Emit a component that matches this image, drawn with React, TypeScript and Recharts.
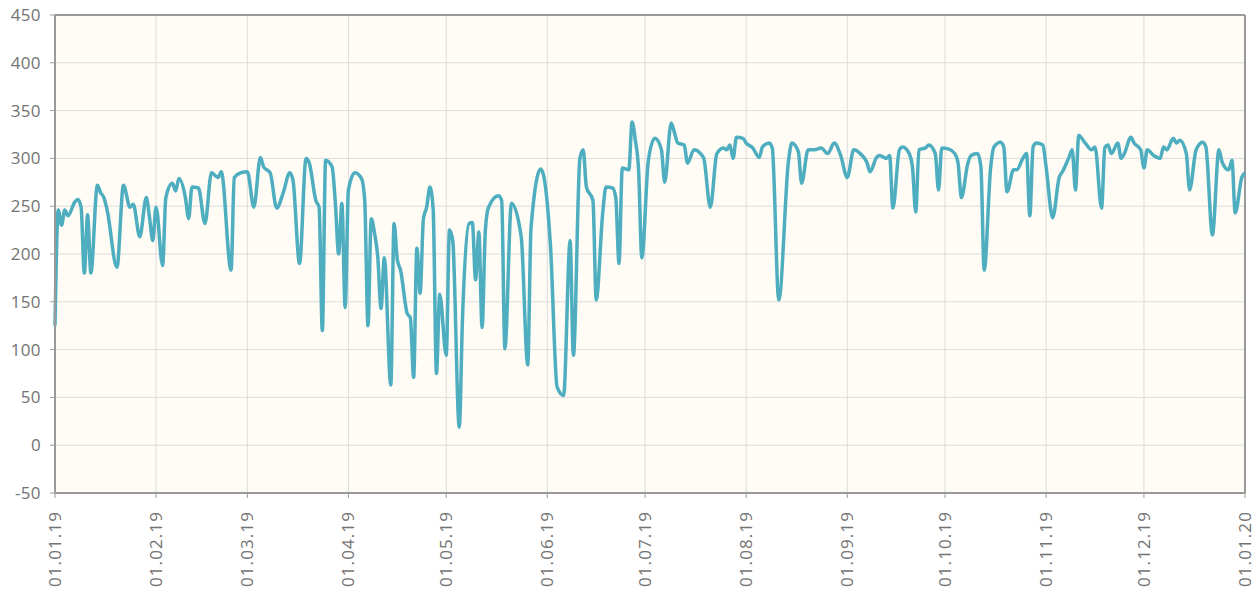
import React from 'react';
import {
  LineChart,
  Line,
  XAxis,
  YAxis,
  CartesianGrid,
  ReferenceLine,
} from 'recharts';

// day of year (0 = 01.01.19) where the line turns, and the value there
const DAYS = [
  0, 1, 2, 3, 4, 6, 7, 8, 9, 10, 11, 13, 14, 15, 16, 19, 21, 23, 24, 26, 28, 29, 30,
  31, 33, 34, 36, 37, 38, 40, 41, 42, 44, 46, 48, 50, 51, 54, 55, 57,
  59, 61, 63, 64, 66, 68, 70, 72, 73, 75, 77, 78, 80, 81, 82, 83, 85, 86, 87, 88, 89,
  90, 92, 94, 95, 96, 97, 98, 99, 100, 101, 103, 104, 105, 106, 108, 109, 110, 111, 112,
  113, 114, 115, 116, 117, 118, 120, 121, 122, 124, 125, 127, 128, 129, 130, 131, 132,
  133, 136, 137, 138, 140, 143, 145, 146, 149, 150,
  152, 154, 156, 158, 159, 161, 162, 163, 165, 166, 168, 169, 171, 172, 173, 174, 176,
  177, 178, 179, 180,
  182, 184, 186, 187, 189, 190, 191, 193, 194, 196, 198, 199, 201, 203, 205, 206, 207,
  208, 209, 211,
  212, 214, 216, 217, 219, 220, 222, 225, 226, 228, 229, 231, 233, 235, 237, 239, 241,
  243, 245, 247, 249, 250, 252, 253, 255, 256, 257, 259, 260, 262, 263, 264, 265, 267,
  268, 270, 271, 272,
  274, 276, 277, 278, 280, 281, 283, 284, 285, 287, 288, 290, 291, 292, 294, 295, 297,
  298, 299, 300, 301, 303,
  304, 306, 308, 309, 311, 312, 313, 314, 316, 318, 319, 321, 322, 323, 324, 326, 327,
  328, 330, 331, 333,
  334, 335, 337, 339, 340, 341, 343, 344, 345, 347, 348, 350, 352, 353, 355, 357, 358,
  360, 361, 362, 364, 365,
];

const VALUES = [
  125, 246, 230, 246, 240, 254, 257, 249, 180, 241, 180, 272, 264, 259, 246, 186, 272, 249, 252, 218, 259, 238, 214,
  249, 188, 259, 274, 266, 279, 259, 237, 270, 269, 232, 285, 280, 286, 183, 280, 285,
  286, 249, 301, 291, 285, 248, 264, 285, 277, 190, 300, 295, 256, 249, 120, 298, 291, 253, 200, 253, 144,
  267, 285, 279, 256, 125, 237, 222, 197, 143, 196, 63, 232, 194, 183, 138, 133, 71, 206, 159,
  237, 249, 270, 246, 75, 158, 94, 225, 214, 19, 134, 232, 233, 173, 223, 123, 225,
  249, 261, 256, 101, 253, 218, 84, 227, 289, 280,
  207, 61, 52, 214, 94, 300, 309, 270, 256, 152, 243, 270, 269, 259, 190, 290, 288,
  338, 319, 288, 196,
  298, 321, 309, 275, 337, 327, 316, 314, 295, 309, 305, 300, 249, 305, 311, 309, 314,
  300, 322, 321,
  316, 311, 301, 312, 316, 311, 152, 298, 316, 307, 274, 309, 309, 311, 305, 316, 303,
  280, 309, 305, 296, 286, 301, 303, 300, 303, 248, 309, 312, 305, 291, 244, 309, 311,
  314, 305, 267, 311,
  310, 305, 295, 259, 295, 303, 305, 291, 183, 291, 312, 317, 312, 265, 288, 288, 301,
  305, 240, 312, 316, 314,
  291, 238, 280, 286, 301, 309, 267, 324, 316, 309, 312, 248, 311, 314, 305, 316, 300,
  305, 322, 316, 309,
  290, 309, 303, 300, 312, 309, 321, 316, 319, 305, 267, 309, 317, 312, 220, 309, 296,
  288, 298, 243, 280, 285,
];

const MONTH_TICKS = [0, 31, 59, 90, 120, 151, 181, 212, 243, 273, 304, 334, 365];
const MONTH_LABELS = [
  '01.01.19', '01.02.19', '01.03.19', '01.04.19', '01.05.19', '01.06.19', '01.07.19',
  '01.08.19', '01.09.19', '01.10.19', '01.11.19', '01.12.19', '01.01.20',
];
const Y_TICKS = [-50, 0, 50, 100, 150, 200, 250, 300, 350, 400, 450];

const data = DAYS.map((day, i) => ({ day, value: VALUES[i] }));

const FONT = '"Open Sans", "DejaVu Sans", sans-serif';
const TEXT_COLOR = '#737373';
const AXIS_COLOR = '#9a9a9a';

function MonthTick({ x, y, payload }: any) {
  const idx = MONTH_TICKS.indexOf(payload.value);
  return (
    <g transform={`translate(${x},${y + 11})`}>
      <text
        transform="rotate(-90)"
        textAnchor="end"
        dy="0.35em"
        fill={TEXT_COLOR}
        fontSize={17}
        fontFamily={FONT}
        letterSpacing={1.1}
      >
        {MONTH_LABELS[idx]}
      </text>
    </g>
  );
}

export default function App() {
  return (
    <div style={{ position: 'absolute', left: 0, top: 0, background: '#ffffff' }}>
      <LineChart
        width={1258}
        height={595}
        data={data}
        margin={{ top: 15, right: 13, left: 0, bottom: 0 }}
      >
        <CartesianGrid stroke="#dcdcdc" fill="#fefcf5" strokeWidth={1} />
        <XAxis
          dataKey="day"
          type="number"
          domain={[0, 365]}
          ticks={MONTH_TICKS}
          interval={0}
          height={102}
          tick={<MonthTick />}
          tickSize={5}
          axisLine={{ stroke: AXIS_COLOR, strokeWidth: 2 }}
          tickLine={{ stroke: AXIS_COLOR }}
        />
        <YAxis
          type="number"
          domain={[-50, 450]}
          ticks={Y_TICKS}
          interval={0}
          width={55}
          tickSize={5}
          tickMargin={9}
          tick={{ fill: TEXT_COLOR, fontSize: 17, fontFamily: FONT, letterSpacing: 0.4 }}
          axisLine={{ stroke: AXIS_COLOR, strokeWidth: 2 }}
          tickLine={{ stroke: AXIS_COLOR }}
        />
        <ReferenceLine y={450} stroke={AXIS_COLOR} strokeWidth={2} />
        <ReferenceLine x={365} stroke={AXIS_COLOR} strokeWidth={2} />
        <Line
          type="monotone"
          dataKey="value"
          stroke="#4eaebf"
          strokeWidth={3.5}
          dot={false}
          isAnimationActive={false}
        />
      </LineChart>
    </div>
  );
}
